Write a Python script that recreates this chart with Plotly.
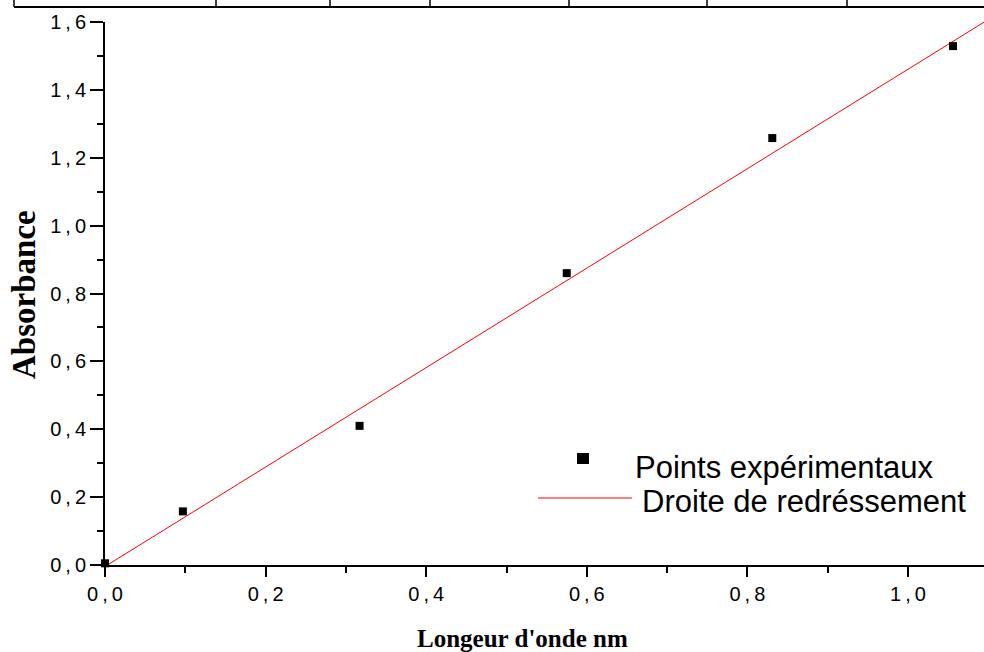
import plotly.graph_objects as go

# Data
pts_x = [0.0, 0.097, 0.317, 0.575, 0.831, 1.056]
pts_y = [0.005, 0.158, 0.410, 0.860, 1.258, 1.529]
fit_x = [0.003, 1.095]
fit_y = [0.0, 1.600]
x_ticks = [0.0, 0.2, 0.4, 0.6, 0.8, 1.0]
y_ticks = [0.0, 0.2, 0.4, 0.6, 0.8, 1.0, 1.2, 1.4, 1.6]
legend_labels = ["Points expérimentaux", "Droite de redréssement"]
x_title = "Longeur d'onde nm"
y_title = "Absorbance"

def fmt(v):
    s = f"{v:.1f}"
    return s.replace(".", "\u2009,\u2009")

W, H = 984, 652
L, R, T, B = 105, 0, 22, 87
pw = W - L - R
ph = H - T - B

def px(x):
    return (x - L) / pw

def py(y):
    return (H - B - y) / ph

fig = go.Figure()
fig.add_trace(go.Scatter(x=fit_x, y=fit_y, mode="lines",
                         line=dict(color="#ff0000", width=1), name=legend_labels[1],
                         showlegend=False, cliponaxis=False))
fig.add_trace(go.Scatter(x=pts_x, y=pts_y, mode="markers",
                         marker=dict(symbol="square", size=8, color="black"),
                         name=legend_labels[0], showlegend=False, cliponaxis=False))

shapes = []
# table fragment at top
line_style = dict(color="black", width=2)
shapes.append(dict(type="line", xref="paper", yref="paper", x0=px(14), x1=px(990),
                   y0=py(7), y1=py(7), line=line_style))
for vx in [14, 216, 330, 430, 569, 707, 847]:
    shapes.append(dict(type="line", xref="paper", yref="paper", x0=px(vx), x1=px(vx),
                       y0=py(-2), y1=py(7), line=dict(color="black", width=1.5)))
# legend symbols
shapes.append(dict(type="rect", xref="paper", yref="paper", x0=px(577), x1=px(589),
                   y0=py(464), y1=py(453), fillcolor="black", line=dict(width=0)))
shapes.append(dict(type="line", xref="paper", yref="paper", x0=px(538), x1=px(632),
                   y0=py(498), y1=py(498), line=dict(color="#ff0000", width=1)))

sans = "Liberation Sans, Arial"
serif = "Liberation Serif, Times New Roman"
annotations = [
    dict(text=legend_labels[0], xref="paper", yref="paper", x=px(633), y=py(467),
         xanchor="left", yanchor="middle", showarrow=False,
         font=dict(family=sans, size=31, color="black")),
    dict(text=legend_labels[1], xref="paper", yref="paper", x=px(640), y=py(501),
         xanchor="left", yanchor="middle", showarrow=False,
         font=dict(family=sans, size=31, color="black")),
    dict(text=f"<b>{x_title}</b>", xref="paper", yref="paper", x=px(522), y=py(638),
         xanchor="center", yanchor="middle", showarrow=False,
         font=dict(family=serif, size=25, color="black")),
    dict(text=f"<b>{y_title}</b>", xref="paper", yref="paper", x=px(24), y=py(295),
         xanchor="center", yanchor="middle", showarrow=False, textangle=-90,
         font=dict(family=serif, size=33, color="black")),
]

def axis_common(tl):
    return dict(showline=True, linecolor="black", linewidth=2, ticks="outside",
                ticklen=tl, tickwidth=1.5, tickcolor="black", showgrid=False,
                zeroline=False,
                tickfont=dict(family=sans, size=20, color="black"),
                minor=dict(ticks="outside", ticklen=6, tickwidth=1.5, tickcolor="black",
                           dtick=0.1, showgrid=False))

fig.update_layout(
    width=W, height=H, margin=dict(l=L, r=R, t=T, b=B, pad=0),
    plot_bgcolor="white", paper_bgcolor="white",
    shapes=shapes, annotations=annotations,
    xaxis=dict(range=[0, pw / 803.0], tickvals=x_ticks,
               ticktext=[fmt(v) for v in x_ticks], **axis_common(10)),
    yaxis=dict(range=[0, 1.6], tickvals=y_ticks,
               ticktext=[fmt(v) for v in y_ticks], **axis_common(13)),
)

fig.write_html("out.html")
